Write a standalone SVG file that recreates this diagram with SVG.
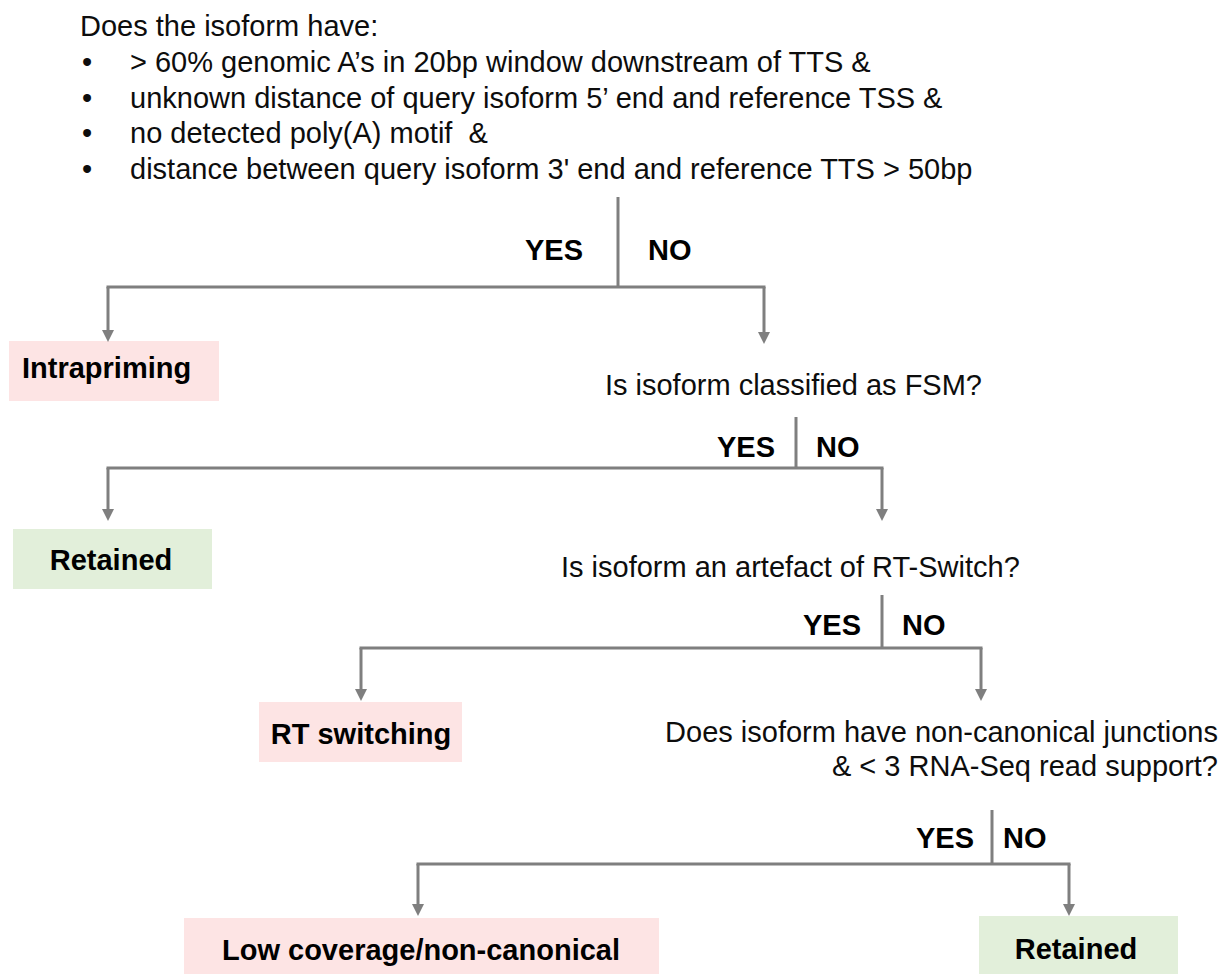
<svg xmlns="http://www.w3.org/2000/svg" width="1229" height="974" viewBox="0 0 1229 974">
<style>
text{font-family:"Liberation Sans",Arial,sans-serif;font-size:29px;fill:#0d0d0d}
.pre{white-space:pre}
.b{font-weight:bold;fill:#000}
.c{stroke:#7f7f7f;stroke-width:3;fill:none}
.bar{stroke-linecap:square}
.pink{fill:#fde4e4}
.green{fill:#e2efda}
</style>
<defs>
<marker id="arr" markerUnits="userSpaceOnUse" markerWidth="13" markerHeight="13" refX="2" refY="6" orient="auto">
<path d="M0,0 L12,6 L0,12 z" fill="#7f7f7f"/>
</marker>
</defs>
<g id="question1">
<text x="80" y="36">Does the isoform have:</text>
<text x="82" y="72">•</text><text x="130" y="72">&gt; 60% genomic A’s in 20bp window downstream of TTS &amp;</text>
<text x="82" y="108">•</text><text x="130" y="108">unknown distance of query isoform 5’ end and reference TSS &amp;</text>
<text x="82" y="143">•</text><text class="pre" x="130" y="143" xml:space="preserve">no detected poly(A) motif  &amp;</text>
<text x="82" y="179">•</text><text x="130" y="179">distance between query isoform 3' end and reference TTS &gt; 50bp</text>
</g>
<g id="question2">
<text x="982" y="395" text-anchor="end">Is isoform classified as FSM?</text>
</g>
<g id="question3">
<text x="561" y="577">Is isoform an artefact of RT-Switch?</text>
</g>
<g id="question4">
<text x="1218" y="742" text-anchor="end">Does isoform have non-canonical junctions</text>
<text x="1218" y="776" text-anchor="end">&amp; &lt; 3 RNA-Seq read support?</text>
</g>
<g id="intrapriming">
<rect class="pink" x="9" y="341" width="210" height="60"/>
<text class="b" x="22" y="378">Intrapriming</text>
</g>
<g id="retained1">
<rect class="green" x="13" y="529" width="199" height="60"/>
<text class="b" x="111" y="570" text-anchor="middle">Retained</text>
</g>
<g id="rt-switching">
<rect class="pink" x="259" y="702" width="203" height="60"/>
<text class="b" x="361" y="744" text-anchor="middle">RT switching</text>
</g>
<g id="low-coverage">
<rect class="pink" x="184" y="918" width="475" height="56"/>
<text class="b" x="421" y="960" text-anchor="middle">Low coverage/non-canonical</text>
</g>
<g id="retained2">
<rect class="green" x="979" y="916" width="199" height="58"/>
<text class="b" x="1076" y="959" text-anchor="middle">Retained</text>
</g>
<g id="connectors">
<path class="c" d="M618,197 V287"/>
<path class="c bar" d="M108,287 H764"/>
<path class="c" marker-end="url(#arr)" d="M108,287 V332"/>
<path class="c" marker-end="url(#arr)" d="M764,287 V334"/>
<text class="b" x="583" y="260" text-anchor="end">YES</text>
<text class="b" x="648" y="260">NO</text>

<path class="c" d="M796,417 V468"/>
<path class="c bar" d="M108,468 H882"/>
<path class="c" marker-end="url(#arr)" d="M108,468 V511"/>
<path class="c" marker-end="url(#arr)" d="M882,468 V511"/>
<text class="b" x="775" y="457" text-anchor="end">YES</text>
<text class="b" x="816" y="457">NO</text>

<path class="c" d="M882,595 V648"/>
<path class="c bar" d="M361,648 H981"/>
<path class="c" marker-end="url(#arr)" d="M361,648 V691"/>
<path class="c" marker-end="url(#arr)" d="M981,648 V691"/>
<text class="b" x="861" y="635" text-anchor="end">YES</text>
<text class="b" x="902" y="635">NO</text>

<path class="c" d="M992,810 V864"/>
<path class="c bar" d="M418,864 H1069"/>
<path class="c" marker-end="url(#arr)" d="M418,864 V906"/>
<path class="c" marker-end="url(#arr)" d="M1069,864 V906"/>
<text class="b" x="974" y="848" text-anchor="end">YES</text>
<text class="b" x="1003" y="848">NO</text>
</g>
</svg>
